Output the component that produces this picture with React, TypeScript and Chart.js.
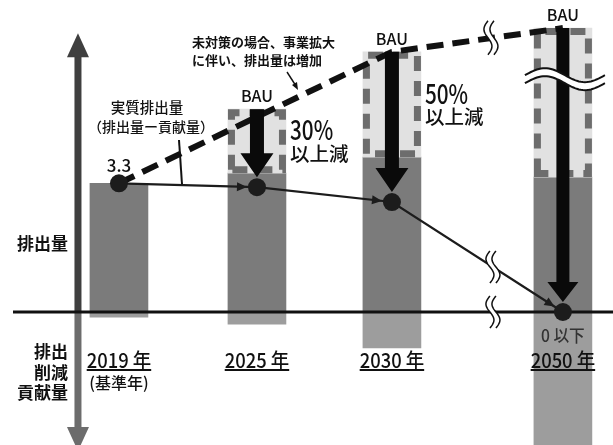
import React, { useEffect, useRef } from 'react';
import { Chart, registerables } from 'chart.js';

Chart.register(...registerables);

// ---------------- data ----------------
const yearLabels = ['2019 年', '2025 年', '2030 年', '2050 年'];
const grossEmission = [3.3, 3.56, 3.97, 3.46];
const contribution = [-0.13, -0.31, -0.92, -3.6];
const bauEmission: (number | null)[] = [null, 5.2, 6.67, 7.28];
const netEmission = [3.3, 3.2, 2.82, 0];
const bauTrend: (number | null)[] = [3.3, null, 6.67, 7.28];
const reductionPct: (string | null)[] = [null, '30%', '50%', null];
const reductionSuffix = '以上減';
const baseYearNote = '(基準年)';
const zeroNote = '0 以下';
const bauLabel = 'BAU';
const noteLines = ['未対策の場合、事業拡大', 'に伴い、排出量は増加'];
const netLabelLines = ['実質排出量', '（排出量ー貢献量）'];
const emissionAxisLabel = '排出量';
const contributionAxisLabel = ['排出', '削減', '貢献量'];

// ---------------- layout ----------------
const slotX = [0, 1, 1.978, 3.217];
const X_MIN = -0.862;
const X_MAX = 3.58;
const Y_MIN = -3.41;
const Y_MAX = 8.0;
const BREAK_X = 2.71;
const WAVE_Y = 5.97;
const AXIS_X = -0.297;
const AXIS_TOP = 7.15;
const FONT = '"Noto Sans CJK JP", "Noto Sans", sans-serif';

function text(ctx: CanvasRenderingContext2D, s: string, x: number, y: number, font: string,
  color = '#111', align: CanvasTextAlign = 'center', baseline: CanvasTextBaseline = 'middle', sx = 1) {
  ctx.save();
  ctx.font = font;
  ctx.fillStyle = color;
  ctx.textAlign = align;
  ctx.textBaseline = baseline;
  ctx.translate(x, y);
  ctx.scale(sx, 1);
  ctx.fillText(s, 0, 0);
  ctx.restore();
}

function underlined(ctx: CanvasRenderingContext2D, s: string, x: number, y: number, font: string, sx: number) {
  text(ctx, s, x, y, font, '#111', 'center', 'middle', sx);
  ctx.save();
  ctx.font = font;
  const w = ctx.measureText(s).width * sx;
  ctx.strokeStyle = '#111';
  ctx.lineWidth = 2;
  ctx.beginPath();
  ctx.moveTo(x - w / 2, y + 10);
  ctx.lineTo(x + w / 2, y + 10);
  ctx.stroke();
  ctx.restore();
}

function downArrow(ctx: CanvasRenderingContext2D, x: number, y0: number, y1: number,
  shaftW: number, headW: number, headH: number) {
  ctx.save();
  ctx.fillStyle = '#0a0a0a';
  ctx.beginPath();
  ctx.moveTo(x - shaftW / 2, y0);
  ctx.lineTo(x + shaftW / 2, y0);
  ctx.lineTo(x + shaftW / 2, y1 - headH);
  ctx.lineTo(x + headW / 2, y1 - headH);
  ctx.lineTo(x, y1);
  ctx.lineTo(x - headW / 2, y1 - headH);
  ctx.lineTo(x - shaftW / 2, y1 - headH);
  ctx.closePath();
  ctx.fill();
  ctx.restore();
}

function vBreak(ctx: CanvasRenderingContext2D, cx: number, cy: number, h: number) {
  const amp = 4, off = 3, n = 30;
  const curve = (dx: number) => {
    const pts: [number, number][] = [];
    for (let k = 0; k <= n; k++) {
      const t = k / n;
      pts.push([cx + dx - amp * Math.sin(t * 2 * Math.PI), cy - h / 2 + t * h]);
    }
    return pts;
  };
  const L = curve(-off), R = curve(off);
  ctx.save();
  ctx.beginPath();
  L.forEach((p, k) => (k ? ctx.lineTo(p[0], p[1]) : ctx.moveTo(p[0], p[1])));
  R.slice().reverse().forEach((p) => ctx.lineTo(p[0], p[1]));
  ctx.closePath();
  ctx.fillStyle = '#fff';
  ctx.fill();
  ctx.strokeStyle = '#111';
  ctx.lineWidth = 1.5;
  [L, R].forEach((pts) => {
    ctx.beginPath();
    pts.forEach((p, k) => (k ? ctx.lineTo(p[0], p[1]) : ctx.moveTo(p[0], p[1])));
    ctx.stroke();
  });
  ctx.restore();
}

function hWave(ctx: CanvasRenderingContext2D, x0: number, x1: number, cy: number) {
  const amp = 7, off = 4, n = 40;
  const curve = (dy: number) => {
    const pts: [number, number][] = [];
    for (let k = 0; k <= n; k++) {
      const t = k / n;
      pts.push([x0 + t * (x1 - x0), cy + dy - amp * Math.sin(t * 2 * Math.PI)]);
    }
    return pts;
  };
  const T = curve(-off), B = curve(off);
  ctx.save();
  ctx.beginPath();
  T.forEach((p, k) => (k ? ctx.lineTo(p[0], p[1]) : ctx.moveTo(p[0], p[1])));
  B.slice().reverse().forEach((p) => ctx.lineTo(p[0], p[1]));
  ctx.closePath();
  ctx.fillStyle = '#fff';
  ctx.fill();
  ctx.strokeStyle = '#111';
  ctx.lineWidth = 2;
  [T, B].forEach((pts) => {
    ctx.beginPath();
    pts.forEach((p, k) => (k ? ctx.lineTo(p[0], p[1]) : ctx.moveTo(p[0], p[1])));
    ctx.stroke();
  });
  ctx.restore();
}

const decorPlugin = {
  id: 'decor',
  afterDatasetDraw(chart: any, args: any) {
    const ctx: CanvasRenderingContext2D = chart.ctx;
    const X = (v: number) => chart.scales.x.getPixelForValue(v);
    const Y = (v: number) => chart.scales.y.getPixelForValue(v);
    const area = chart.chartArea;

    if (args.index === 2) {
      // dashed outline of BAU boxes
      ctx.save();
      ctx.strokeStyle = '#6d6d6d';
      ctx.lineWidth = 7;
      ctx.setLineDash([15, 10]);
      args.meta.data.forEach((el: any) => {
        const p = el.getProps(['x', 'y', 'base', 'width'], true);
        const top = Math.min(p.y, p.base), bot = Math.max(p.y, p.base);
        const l = p.x - p.width / 2 + 3.5, r = p.x + p.width / 2 - 3.5;
        ctx.beginPath();
        ctx.moveTo(l, bot - 3.5);
        ctx.lineTo(l, top + 3.5);
        ctx.lineTo(r, top + 3.5);
        ctx.lineTo(r, bot - 3.5);
        ctx.closePath();
        ctx.stroke();
      });
      ctx.restore();

      // vertical axis
      const ax = X(AXIS_X);
      const y0 = Y(0);
      const yt = Y(AXIS_TOP);
      ctx.save();
      ctx.fillStyle = '#3f3f3f';
      ctx.fillRect(ax - 3.5, yt + 20, 7, y0 - yt - 20);
      ctx.beginPath();
      ctx.moveTo(ax, yt);
      ctx.lineTo(ax + 11, yt + 24);
      ctx.lineTo(ax - 11, yt + 24);
      ctx.closePath();
      ctx.fill();
      ctx.fillStyle = '#6c6c6c';
      const yb = area.bottom - 18;
      ctx.fillRect(ax - 3.5, y0, 7, yb - y0 + 2);
      ctx.beginPath();
      ctx.moveTo(ax - 11, yb);
      ctx.lineTo(ax + 11, yb);
      ctx.lineTo(ax, yb + 24);
      ctx.closePath();
      ctx.fill();
      // zero line
      ctx.strokeStyle = '#111';
      ctx.lineWidth = 3;
      ctx.beginPath();
      ctx.moveTo(13, y0);
      ctx.lineTo(area.right, y0);
      ctx.stroke();
      ctx.restore();
    }

    if (args.index === 3) {
      // reduction arrows BAU -> net
      bauEmission.forEach((b, i) => {
        if (b == null) return;
        const x = X(slotX[i]);
        const last = i === bauEmission.length - 1;
        downArrow(ctx, x, Y(b), Y(netEmission[i]) - 10, last ? 13 : 14, last ? 31 : 33, last ? 20 : 24);
      });
      // break on trend line
      const i2 = 2, i3 = 3;
      const bx = X(BREAK_X);
      const xa = X(slotX[i2]), xb = X(slotX[i3]);
      const ya = Y(bauTrend[i2] as number), yb = Y(bauTrend[i3] as number);
      const yc = ya + (yb - ya) * (bx - xa) / (xb - xa);
      vBreak(ctx, bx - 2, yc, 34);
      // wave on 2050 column
      const x3 = X(slotX[3]);
      hWave(ctx, x3 - 38, x3 + 42, Y(WAVE_Y));
    }

    if (args.index === 4) {
      // arrowheads on net line
      const pts = args.meta.data.map((el: any) => el.getProps(['x', 'y'], true));
      ctx.save();
      ctx.fillStyle = '#1c1c1c';
      for (let i = 0; i < pts.length - 1; i++) {
        const a = pts[i], b = pts[i + 1];
        const dx = b.x - a.x, dy = b.y - a.y;
        const len = Math.hypot(dx, dy);
        const ux = dx / len, uy = dy / len;
        const tx = b.x - ux * 10, ty = b.y - uy * 10;
        const bxp = tx - ux * 10, byp = ty - uy * 10;
        ctx.beginPath();
        ctx.moveTo(tx, ty);
        ctx.lineTo(bxp - uy * 4.5, byp + ux * 4.5);
        ctx.lineTo(bxp + uy * 4.5, byp - ux * 4.5);
        ctx.closePath();
        ctx.fill();
      }
      ctx.restore();
      // breaks on net line and zero line
      const bx = X(BREAK_X);
      const a = pts[2], b = pts[3];
      const yc = a.y + (b.y - a.y) * (bx - a.x) / (b.x - a.x);
      vBreak(ctx, bx, yc, 32);
      vBreak(ctx, bx, Y(0), 32);

      // texts
      const y0 = Y(0);
      bauEmission.forEach((v, i) => {
        if (v == null) return;
        text(ctx, bauLabel, X(slotX[i]), Y(v) - 13, `500 16px ${FONT}`);
      });
      reductionPct.forEach((s, i) => {
        if (!s) return;
        const mid = (Y(bauEmission[i] as number) + Y(grossEmission[i])) / 2;
        const lx = X(slotX[i]) + 33;
        text(ctx, s, lx, mid - 1, `500 27px ${FONT}`, '#111', 'left', 'alphabetic', 0.77);
        text(ctx, reductionSuffix, lx, mid + 12, `500 19.5px ${FONT}`, '#111', 'left', 'middle');
      });
      text(ctx, netEmission[0].toFixed(1), X(slotX[0]), Y(netEmission[0]) - 18, `500 17px ${FONT}`);
      yearLabels.forEach((s, i) => {
        underlined(ctx, s, X(slotX[i]), y0 + 48, `500 20px ${FONT}`, 0.92);
      });
      text(ctx, baseYearNote, X(slotX[0]), y0 + 71, `500 16px ${FONT}`);
      text(ctx, zeroNote, X(slotX[3]), y0 + 24, `500 17px ${FONT}`, '#333', 'center', 'middle', 0.92);

      // left axis labels
      const ax = X(AXIS_X);
      text(ctx, emissionAxisLabel, ax - 10, Y(1.75), `bold 17px ${FONT}`, '#111', 'right');
      contributionAxisLabel.forEach((s, k) => {
        text(ctx, s, ax - 10, y0 + 40 + k * 20.5, `bold 17px ${FONT}`, '#111', 'right');
      });

      // annotation: net emission
      text(ctx, netLabelLines[0], 147, 107, `500 14.5px ${FONT}`);
      text(ctx, netLabelLines[1], 151, 127, `500 14px ${FONT}`);
      ctx.save();
      ctx.strokeStyle = '#111';
      ctx.lineWidth = 2;
      ctx.beginPath();
      ctx.moveTo(179, 140);
      ctx.lineTo(182, Y(netEmission[0]) + 1);
      ctx.stroke();
      ctx.restore();

      // annotation: BAU note
      text(ctx, noteLines[0], 192, 42, `bold 13px ${FONT}`, '#111', 'left');
      text(ctx, noteLines[1], 192, 60, `bold 13px ${FONT}`, '#111', 'left');
      ctx.save();
      ctx.strokeStyle = '#111';
      ctx.fillStyle = '#111';
      ctx.lineWidth = 1.4;
      ctx.beginPath();
      ctx.moveTo(287, 72);
      ctx.lineTo(296, 86);
      ctx.stroke();
      ctx.beginPath();
      ctx.moveTo(298, 90);
      ctx.lineTo(292, 85);
      ctx.lineTo(297, 82);
      ctx.closePath();
      ctx.fill();
      ctx.restore();
    }
  },
};

export default function App() {
  const ref = useRef<HTMLCanvasElement | null>(null);
  useEffect(() => {
    if (!ref.current) return;
    const chart = new Chart(ref.current, {
      type: 'bar',
      data: {
        datasets: [
          {
            type: 'bar',
            data: slotX.map((x, i) => ({ x, y: [contribution[i], 0] })),
            backgroundColor: '#9d9d9d',
            barThickness: 58,
            grouped: false,
            borderWidth: 0,
            order: 6,
          } as any,
          {
            type: 'bar',
            data: slotX.map((x, i) => ({ x, y: [0, grossEmission[i]] })),
            backgroundColor: '#7b7b7b',
            barThickness: 58,
            grouped: false,
            borderWidth: 0,
            order: 5,
          } as any,
          {
            type: 'bar',
            data: slotX
              .map((x, i) => (bauEmission[i] == null ? null : { x, y: [grossEmission[i], bauEmission[i]] }))
              .filter(Boolean),
            backgroundColor: '#e1e1e1',
            barThickness: 58,
            grouped: false,
            borderWidth: 0,
            order: 4,
          } as any,
          {
            type: 'line',
            data: slotX.map((x, i) => ({ x, y: bauTrend[i] })),
            spanGaps: true,
            borderColor: '#111',
            borderWidth: 6,
            borderDash: [17, 9],
            pointRadius: 0,
            fill: false,
            order: 3,
          } as any,
          {
            type: 'line',
            data: slotX.map((x, i) => ({ x, y: netEmission[i] })),
            borderColor: '#1c1c1c',
            borderWidth: 2.2,
            pointRadius: 9,
            pointBackgroundColor: '#1c1c1c',
            pointBorderWidth: 0,
            fill: false,
            order: 1,
          } as any,
        ],
      },
      options: {
        animation: false,
        responsive: false,
        events: [],
        layout: { padding: 0, autoPadding: false } as any,
        plugins: { legend: { display: false }, tooltip: { enabled: false } },
        scales: {
          x: { type: 'linear', min: X_MIN, max: X_MAX, offset: false, display: false },
          y: { type: 'linear', min: Y_MIN, max: Y_MAX, display: false },
        },
      },
      plugins: [decorPlugin],
    });
    (document as any).fonts?.load?.(`16px ${FONT}`).then(() => chart.draw()).catch(() => {});
    return () => chart.destroy();
  }, []);
  return (
    <div style={{ position: 'absolute', left: 0, top: 0, width: 613, height: 445, background: '#fff' }}>
      <canvas ref={ref} width={613} height={445} style={{ display: 'block' }} />
    </div>
  );
}
